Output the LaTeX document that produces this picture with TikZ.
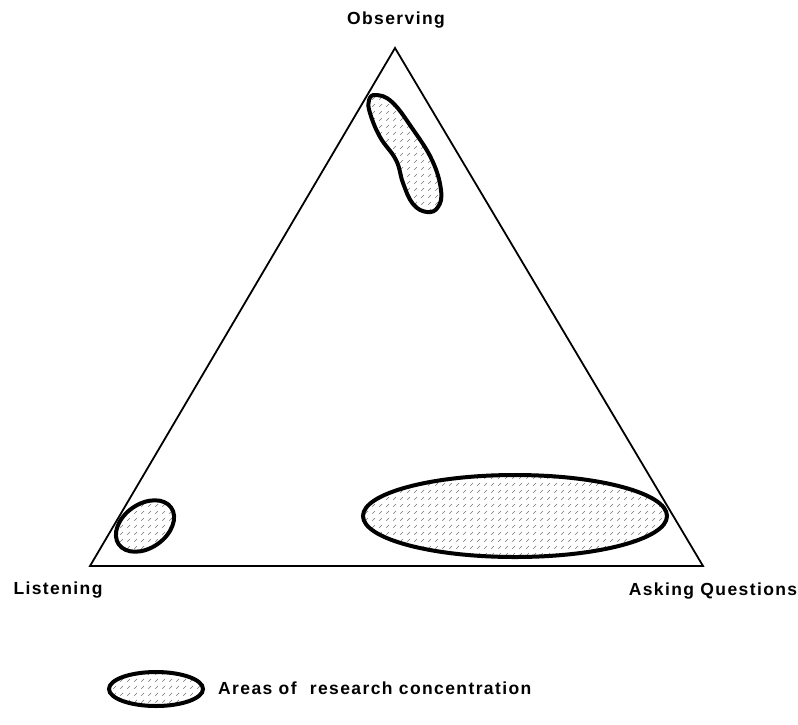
\documentclass[tikz,border=0pt]{standalone}
\usepackage{fontspec}
\setmainfont{Liberation Sans}
\newfontfamily\lblfont[LetterSpace=8]{Liberation Sans}
\usetikzlibrary{patterns}
\pgfdeclarepatternformonly{shortdash}{\pgfpointorigin}{\pgfpoint{7pt}{7pt}}{\pgfpoint{7pt}{7pt}}{%
  \pgfsetlinewidth{0.7pt}%
  \pgfpathmoveto{\pgfpoint{1.5pt}{1.5pt}}%
  \pgfpathlineto{\pgfpoint{4.5pt}{4.5pt}}%
  \pgfusepath{stroke}}
\tikzset{
  blob/.style={line width=4pt, draw=black, pattern=shortdash, pattern color=black!55},
  lbl/.style={font=\lblfont\fontsize{17.5}{20}\selectfont\bfseries, inner sep=0pt},
  tri/.style={line width=1.8pt, line join=miter}
}
\begin{document}
\begin{tikzpicture}[x=1pt,y=-1pt]
\useasboundingbox (0,0) rectangle (798,724);
\coordinate (O) at (395,48);
\coordinate (L) at (90,566);
\coordinate (A) at (703,566);
\draw[tri] (O) -- (L) -- (A) -- cycle;
\node[lbl] (obs) at (396,20) {Observing};
\node[lbl] (lis) at (58,590) {Listening};
\node[lbl] (ask) at (713,591) {Asking Questions};
% top bean
\draw[blob] plot[smooth cycle, tension=0.7] coordinates {(376,95) (392,102) (412,128) (432,160) (441,190) (438,207) (427,212) (413,204) (403,183) (396,160) (380,137) (370,113) (369,100)};
% small ellipse
\draw[blob, rotate around={35:(145,526)}] (145,526) ellipse [x radius=32, y radius=22];
% large ellipse
\draw[blob] (515,516) ellipse [x radius=152, y radius=41];
% legend
\draw[blob] (156,689) ellipse [x radius=47, y radius=17];
\node[lbl, anchor=west] (leg) at (218,688) {Areas of\hspace{0.4em} research concentration};
\end{tikzpicture}
\end{document}
